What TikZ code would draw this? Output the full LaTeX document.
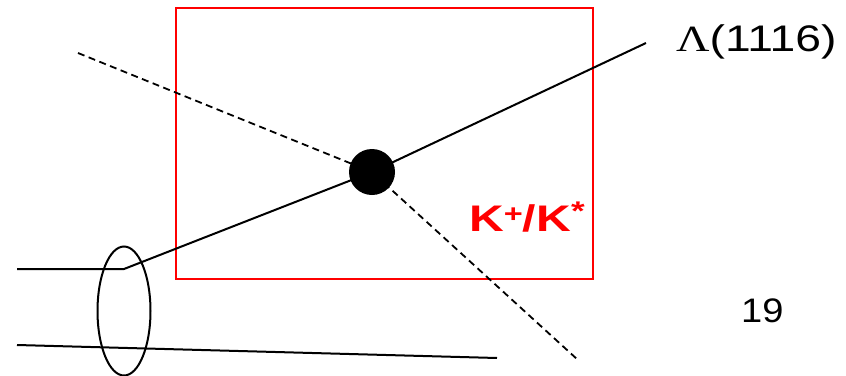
\documentclass[tikz,border=0pt]{standalone}
\usepackage{fontspec}
\setmainfont{Liberation Sans}
\newfontfamily\serifL{Liberation Serif}
\usepackage{graphicx}
\usetikzlibrary{shapes.geometric}
\definecolor{boxred}{RGB}{255,0,0}
\tikzset{
  solidline/.style={line width=2pt, black},
  dashline/.style={line width=1.8pt, black, dash pattern=on 7pt off 4.5pt},
  lbl/.style={inner sep=0pt, anchor=base west},
}
\begin{document}
\begin{tikzpicture}[x=1pt,y=-1pt]
\useasboundingbox (0,0) rectangle (846,375);
% red frame
\node[draw=boxred, line width=1.8pt, minimum width=417pt, minimum height=271pt, inner sep=0pt] (box) at (384.5,143.5) {};
% coordinates
\coordinate (v) at (372,172);
\coordinate (a0) at (17,269);
\coordinate (a1) at (124,269);
\coordinate (lam) at (646,43);
\coordinate (d0) at (78,53);
\coordinate (d1) at (578,360);
\coordinate (b0) at (17,345);
\coordinate (b1) at (497,358);
% tracks
\draw[solidline] (a0) -- (a1) -- (v) -- (lam);
\draw[dashline] (d0) -- (v) -- (d1);
\draw[solidline] (b0) -- (b1);
% ellipse
\node[draw, ellipse, line width=2pt, minimum width=53pt, minimum height=129pt, inner sep=0pt] (ell) at (124,311) {};
% vertex
\node[circle, fill=black, minimum size=46pt, inner sep=0pt] (dot) at (v) {};
% labels
\node[lbl] (lamlbl) at (676,51) {\scalebox{1.25}[1]{\fontsize{37}{40}\selectfont{\serifL Λ}(1116)}};
\node[lbl, text=boxred] (klbl) at (469,231) {\scalebox{1.3}[1]{\fontsize{37}{40}\selectfont\bfseries K\raisebox{0.22em}{\fontsize{25}{28}\selectfont +}/K\raisebox{0.28em}{\fontsize{27}{30}\selectfont *}}};
\node[lbl] (pg) at (741,322) {\scalebox{1.12}[1]{\fontsize{34}{36}\selectfont 19}};
\end{tikzpicture}
\end{document}
